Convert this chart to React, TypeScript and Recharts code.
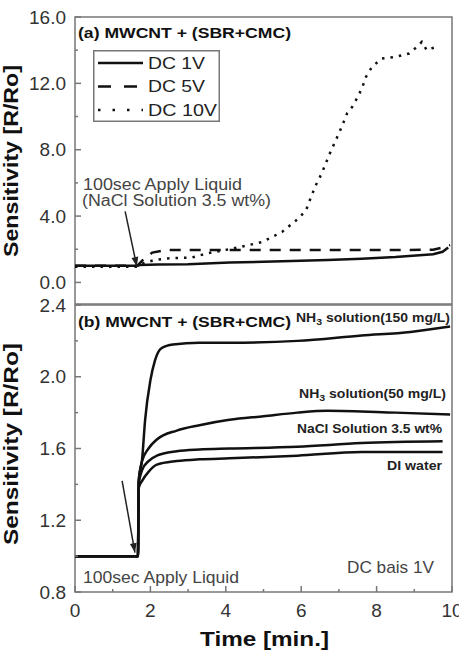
import React from "react";
import { LineChart, Line, XAxis, YAxis, ReferenceArea, ReferenceLine, Legend } from "recharts";

// tick values
const timeTicks = [0, 1, 2, 3, 4, 5, 6, 7, 8, 9, 10];
const sensTicksA = [0, 2, 4, 6, 8, 10, 12, 14, 16];
const sensTicksB = [0.8, 1.0, 1.2, 1.4, 1.6, 1.8, 2.0, 2.2, 2.4];

// (a) MWCNT + (SBR+CMC), NaCl 3.5 wt%, different DC bias
const dc1vTime = [0, 1.65, 1.72, 2.2, 3.0, 4.1, 5.5, 6.7, 7.6, 8.5, 9.5, 9.75, 9.9];
const dc1vValue = [1.0, 1.0, 1.05, 1.08, 1.1, 1.2, 1.27, 1.35, 1.43, 1.53, 1.7, 1.85, 2.1];

const dc5vTime = [0, 1.65, 1.8, 2.05, 2.4, 4.0, 6.0, 8.0, 9.5, 9.75, 9.95];
const dc5vValue = [1.0, 1.0, 1.35, 1.8, 1.95, 1.95, 1.95, 1.95, 1.97, 2.1, 2.25];

const dc10vTime = [0, 1.65, 1.75, 2.1, 2.45, 3.1, 3.5, 4.08, 4.5, 4.96, 5.49, 5.94, 6.13, 6.26, 6.39, 6.55, 6.74, 6.92, 7.06, 7.22, 7.35, 7.48, 7.61, 7.72, 7.88, 8.14, 8.51, 8.86, 9.07, 9.2, 9.33, 9.57];
const dc10vValue = [0.95, 0.95, 1.1, 1.35, 1.45, 1.5, 1.75, 2.0, 2.2, 2.43, 3.04, 3.88, 4.36, 5.15, 5.87, 6.6, 7.68, 8.58, 9.3, 10.2, 10.57, 11.1, 11.7, 12.4, 13.0, 13.5, 13.6, 13.8, 14.2, 14.5, 14.0, 14.2];

// (b) MWCNT + (SBR+CMC), DC bias 1V, different liquids
const nh3HighTime = [0, 1.67, 1.69, 1.78, 1.86, 2.0, 2.12, 2.3, 2.6, 3.3, 4.1, 5.9, 7.6, 8.9, 9.95];
const nh3HighValue = [1.0, 1.0, 1.42, 1.54, 1.76, 1.98, 2.09, 2.16, 2.18, 2.19, 2.19, 2.2, 2.23, 2.25, 2.28];

const nh3LowTime = [0, 1.67, 1.69, 1.78, 1.95, 2.17, 2.7, 3.3, 4.1, 5.0, 5.9, 6.7, 8.5, 9.95];
const nh3LowValue = [1.0, 1.0, 1.42, 1.53, 1.6, 1.65, 1.7, 1.73, 1.76, 1.78, 1.8, 1.81, 1.8, 1.79];

const naclTime = [0, 1.67, 1.69, 1.78, 1.95, 2.17, 2.7, 3.3, 4.1, 5.9, 7.6, 9.75];
const naclValue = [1.0, 1.0, 1.4, 1.48, 1.53, 1.56, 1.585, 1.595, 1.6, 1.61, 1.63, 1.64];

const diTime = [0, 1.67, 1.69, 1.78, 1.95, 2.17, 2.7, 3.3, 4.1, 5.9, 7.6, 9.75];
const diValue = [1.0, 1.0, 1.38, 1.42, 1.47, 1.51, 1.53, 1.54, 1.545, 1.56, 1.58, 1.58];

const zip = (t: number[], v: number[]) => t.map((x, i) => ({ t: x, v: v[i] }));

const FONT = "'Liberation Sans', Arial, sans-serif";
const INK = "#111";
const FRAME = "#777";

const legendNames = ["DC 1V", "DC 5V", "DC 10V"];
const legendDash = [undefined, "13 13", "2.5 12"];
const legendWidths = [57, 57, 69];

const LeftTick = (props: any) => {
    const { x, y, payload, panel } = props;
    const v = payload.value;
    const major = panel === "a" ? v % 4 === 0 : Math.round(v * 10) % 4 === 0;
    return (
        <g>
            <line x1={x} x2={x + (major ? 6 : 3)} y1={y} y2={y} stroke={FRAME} strokeWidth={1.5} />
            {major && (
                <text x={x - 9} y={y} textAnchor="end" dominantBaseline="central" fontFamily={FONT} fontSize={19} fill="#333">
                    {v.toFixed(1)}
                </text>
            )}
        </g>
    );
};

const BottomTick = (props: any) => {
    const { x, y, payload } = props;
    const major = payload.value % 2 === 0;
    return (
        <g>
            <line x1={x} x2={x} y1={y} y2={y - (major ? 6 : 3)} stroke={FRAME} strokeWidth={1.5} />
            {major && (
                <text x={x} y={y + 18} textAnchor="middle" dominantBaseline="central" fontFamily={FONT} fontSize={19} fill="#333">
                    {payload.value}
                </text>
            )}
        </g>
    );
};

const Arrow = (props: any) => {
    const { x1, y1, x2, y2 } = props;
    const ang = Math.atan2(y2 - y1, x2 - x1);
    const len = 10;
    const spread = 0.35;
    const a = [x2 - len * Math.cos(ang - spread), y2 - len * Math.sin(ang - spread)];
    const b = [x2 - len * Math.cos(ang + spread), y2 - len * Math.sin(ang + spread)];
    return (
        <g>
            <line x1={x1} y1={y1} x2={x2} y2={y2} stroke="#222" strokeWidth={1.5} />
            <polygon points={`${a[0]},${a[1]} ${x2},${y2} ${b[0]},${b[1]}`} fill="#222" />
        </g>
    );
};

const LegendBox = () => (
    <svg width={127} height={72} style={{ display: "block" }}>
        <rect x={0.75} y={0.75} width={125.5} height={70.5} fill="white" stroke={FRAME} strokeWidth={1.5} />
        {legendNames.map((name, i) => (
            <g key={name}>
                <line x1={5} x2={50} y1={13 + i * 23.5} y2={13 + i * 23.5} stroke={INK} strokeWidth={2.5} strokeDasharray={legendDash[i]} />
                <text x={55} y={13 + i * 23.5} dominantBaseline="central" fontFamily={FONT} fontSize={17} fill="#222"
                    textLength={legendWidths[i]} lengthAdjust="spacingAndGlyphs">
                    {name}
                </text>
            </g>
        ))}
    </svg>
);

const Overlay = () => (
    <svg width={459} height={657} style={{ position: "absolute", left: 0, top: 0, pointerEvents: "none" }} fontFamily={FONT}>
        <text x={78} y={38} fontSize={15} fontWeight="bold" fill={INK} textLength={213} lengthAdjust="spacingAndGlyphs">(a) MWCNT + (SBR+CMC)</text>
        <text x={83} y={190} fontSize={16} fill="#444" textLength={159} lengthAdjust="spacingAndGlyphs">100sec Apply Liquid</text>
        <text x={82} y={206} fontSize={16} fill="#444" textLength={189} lengthAdjust="spacingAndGlyphs">(NaCl Solution 3.5 wt%)</text>

        <text x={78} y={327} fontSize={15} fontWeight="bold" fill={INK} textLength={213} lengthAdjust="spacingAndGlyphs">(b) MWCNT + (SBR+CMC)</text>
        <text x={296} y={322} fontSize={12} fontWeight="bold" fill="#222" textLength={154} lengthAdjust="spacingAndGlyphs">
            NH<tspan fontSize={9} dy={3}>3</tspan><tspan dy={-3}> solution(150 mg/L)</tspan>
        </text>
        <text x={299} y={398} fontSize={12} fontWeight="bold" fill="#222" textLength={147} lengthAdjust="spacingAndGlyphs">
            NH<tspan fontSize={9} dy={3}>3</tspan><tspan dy={-3}> solution(50 mg/L)</tspan>
        </text>
        <text x={297} y={433} fontSize={12} fontWeight="bold" fill="#222" textLength={145} lengthAdjust="spacingAndGlyphs">NaCl Solution 3.5 wt%</text>
        <text x={387} y={470} fontSize={12} fontWeight="bold" fill="#222" textLength={55} lengthAdjust="spacingAndGlyphs">DI water</text>
        <text x={347} y={573} fontSize={17} fill="#444" textLength={87} lengthAdjust="spacingAndGlyphs">DC bais 1V</text>
        <text x={83} y={583} fontSize={16} fill="#444" textLength={156} lengthAdjust="spacingAndGlyphs">100sec Apply Liquid</text>

        <text x={18} y={161} fontSize={20} fontWeight="bold" fill={INK} textAnchor="middle" transform="rotate(-90 18 161)"
            textLength={192} lengthAdjust="spacingAndGlyphs">Sensitivity [R/Ro]</text>
        <text x={18} y={444} fontSize={20} fontWeight="bold" fill={INK} textAnchor="middle" transform="rotate(-90 18 444)"
            textLength={202} lengthAdjust="spacingAndGlyphs">Sensitivity [R/Ro]</text>
        <text x={200} y={646} fontSize={20} fontWeight="bold" fill={INK} textLength={129} lengthAdjust="spacingAndGlyphs">Time [min.]</text>
    </svg>
);

export default function App() {
    return (
        <div style={{ position: "absolute", left: 0, top: 0, width: 459, height: 657, background: "white", overflow: "hidden" }}>
            <div style={{ position: "absolute", left: 0, top: 0 }}>
                <LineChart width={459} height={305} margin={{ top: 17, right: 7, bottom: 1, left: 0 }}>
                    <XAxis type="number" dataKey="t" domain={[0, 10]} hide height={0} />
                    <YAxis type="number" domain={[-1.3, 16]} ticks={sensTicksA} interval={0} width={75}
                        axisLine={false} tickLine={false} tickSize={0} tickMargin={0}
                        tick={(p: any) => <LeftTick {...p} panel="a" />} />
                    <ReferenceArea x1={0} x2={10} y1={-1.3} y2={16} fill="none" stroke={FRAME} strokeWidth={1.5} ifOverflow="visible" />
                    <Line data={zip(dc1vTime, dc1vValue)} dataKey="v" name="DC 1V" stroke={INK} strokeWidth={2.5} dot={false} type="linear" isAnimationActive={false} />
                    <Line data={zip(dc5vTime, dc5vValue)} dataKey="v" name="DC 5V" stroke={INK} strokeWidth={2.5} strokeDasharray="11 9" dot={false} type="linear" isAnimationActive={false} />
                    <Line data={zip(dc10vTime, dc10vValue)} dataKey="v" name="DC 10V" stroke={INK} strokeWidth={2.5} strokeDasharray="2.5 6" dot={false} type="linear" isAnimationActive={false} />
                    <ReferenceLine segment={[{ x: 1.33, y: 4.28 }, { x: 1.64, y: 0.96 }]} shape={(p: any) => <Arrow {...p} />} ifOverflow="visible" />
                    <Legend layout="vertical" align="center" verticalAlign="middle" content={() => <LegendBox />}
                        wrapperStyle={{ position: "absolute", left: 93, top: 50, width: 127, height: 72 }} />
                </LineChart>
            </div>
            <div style={{ position: "absolute", left: 0, top: 285 }}>
                <LineChart width={459} height={372} margin={{ top: 20, right: 7, bottom: 0, left: 0 }}>
                    <XAxis type="number" dataKey="t" domain={[0, 10]} ticks={timeTicks} interval={0} height={65}
                        axisLine={false} tickLine={false} tickSize={0} tickMargin={0} tick={(p: any) => <BottomTick {...p} />} />
                    <YAxis type="number" domain={[0.8, 2.4]} ticks={sensTicksB} interval={0} width={75}
                        axisLine={false} tickLine={false} tickSize={0} tickMargin={0}
                        tick={(p: any) => <LeftTick {...p} panel="b" />} />
                    <ReferenceArea x1={0} x2={10} y1={0.8} y2={2.4} fill="none" stroke={FRAME} strokeWidth={1.5} ifOverflow="visible" />
                    <Line data={zip(nh3HighTime, nh3HighValue)} dataKey="v" name="NH3 150" stroke={INK} strokeWidth={2.5} dot={false} type="monotone" isAnimationActive={false} />
                    <Line data={zip(nh3LowTime, nh3LowValue)} dataKey="v" name="NH3 50" stroke={INK} strokeWidth={2.5} dot={false} type="monotone" isAnimationActive={false} />
                    <Line data={zip(naclTime, naclValue)} dataKey="v" name="NaCl" stroke={INK} strokeWidth={2.5} dot={false} type="monotone" isAnimationActive={false} />
                    <Line data={zip(diTime, diValue)} dataKey="v" name="DI water" stroke={INK} strokeWidth={2.5} dot={false} type="monotone" isAnimationActive={false} />
                    <ReferenceLine segment={[{ x: 1.25, y: 1.42 }, { x: 1.59, y: 1.02 }]} shape={(p: any) => <Arrow {...p} />} ifOverflow="visible" />
                </LineChart>
            </div>
            <Overlay />
        </div>
    );
}
